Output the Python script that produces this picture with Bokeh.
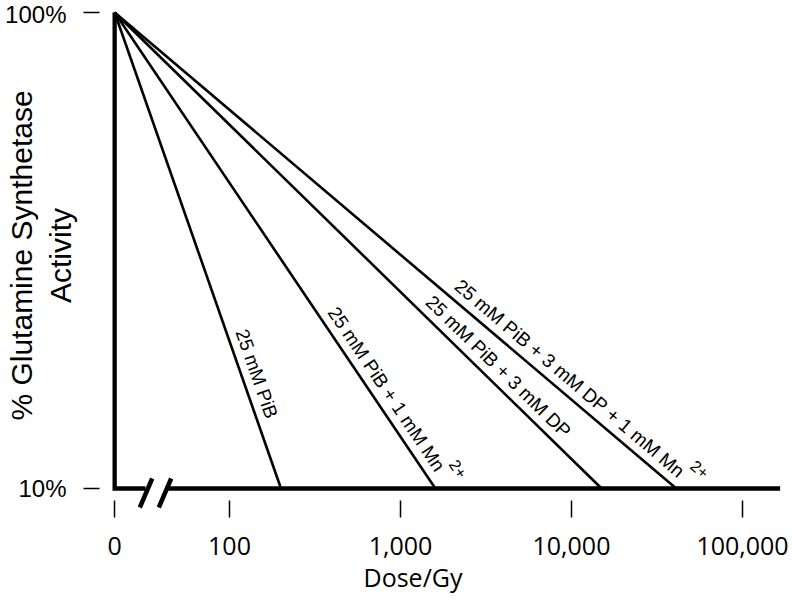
import math
from bokeh.plotting import figure
from bokeh.models import Range1d, FixedTicker, ColumnDataSource, Title
from bokeh.core.properties import value
from bokeh.embed import file_html
from bokeh.resources import INLINE

# ---------------- data ----------------
series_names = ["25 mM PiB", "25 mM PiB + 1 mM Mn", "25 mM PiB + 3 mM DP",
                "25 mM PiB + 3 mM DP + 1 mM Mn"]
series_superscripts = ["", "2+", "", "2+"]
dose_at_10pct = [200, 1600, 15000, 41000]      # Gy at which activity reaches 10 %
activity_start = 100                           # % activity at dose 0
activity_end = 10                              # % activity at end of each line
zero_dose_pos = 21.3                           # axis position used for the "0" dose (axis break)
axis_end_dose = 166000
x_tick_values = [zero_dose_pos, 100, 1000, 10000, 100000]
x_tick_labels = ["0", "100", "1,000", "10,000", "100,000"]
y_tick_values = [10, 100]
y_tick_labels = ["10%", "100%"]
x_title = "Dose/Gy"
y_title = "% Glutamine Synthetase\nActivity"

# ---------------- layout helpers (canvas pixels -> data) ----------------
PX_DEC_X = 171.0   # pixels per decade, x
PX_DEC_Y = 476.0   # pixels per decade, y
def xdata(px):
    return 10 ** (2 + (px - 229) / PX_DEC_X)
def ydata(py):
    return 10 ** (2 - (py - 12) / PX_DEC_Y)

label_t = [0.677, 0.64, 0.624, 0.593]     # start of each line label along its line
sup_t = [None, 0.978, None, 0.995]
LABEL_GAP = 15
SUP_GAP = 30

p = figure(frame_width=672, frame_height=510,
           x_axis_type="log", y_axis_type="log",
           x_range=Range1d(xdata(110), xdata(782)),
           y_range=Range1d(ydata(510), ydata(0)),
           min_border_left=110, min_border_right=10, min_border_top=0, min_border_bottom=90,
           output_backend="svg", toolbar_location=None)
p.xgrid.visible = False
p.ygrid.visible = False
p.outline_line_color = None
p.background_fill_color = "white"
p.border_fill_color = "white"

# --- data lines ---
xs, ys = [], []
for d in dose_at_10pct:
    xs.append([zero_dose_pos, d])
    ys.append([activity_start, activity_end])
p.multi_line(xs, ys, line_color="black", line_width=2.6)

# --- axis frame lines with break ---
brk_lo, brk_hi = xdata(145), xdata(165)
p.line([zero_dose_pos, zero_dose_pos, brk_lo], [activity_start, activity_end, activity_end],
       line_color="black", line_width=4.3, line_join="miter")
p.line([brk_hi, axis_end_dose], [activity_end, activity_end], line_color="black", line_width=4.3)
p.segment(x0=[xdata(151.7), xdata(170.7)], y0=[ydata(478), ydata(478)],
          x1=[xdata(139.3), xdata(158.3)], y1=[ydata(507), ydata(507)],
          line_color="black", line_width=4.5)

# --- line labels ---
def place(i, t, gap):
    lx0 = math.log10(zero_dose_pos)
    lx1 = math.log10(dose_at_10pct[i])
    ly0 = math.log10(activity_start)
    ly1 = math.log10(activity_end)
    dxp = (lx1 - lx0) * PX_DEC_X
    dyp = (ly0 - ly1) * PX_DEC_Y
    th = math.atan2(dyp, dxp)
    lx = lx0 + t * (lx1 - lx0) + gap * math.sin(th) / PX_DEC_X
    ly = ly0 - t * (ly0 - ly1) + gap * math.cos(th) / PX_DEC_Y
    return 10 ** lx, 10 ** ly, -th

lab = dict(x=[], y=[], text=[], angle=[])
sup = dict(x=[], y=[], text=[], angle=[])
for i, name in enumerate(series_names):
    x, y, a = place(i, label_t[i], LABEL_GAP)
    lab["x"].append(x); lab["y"].append(y); lab["text"].append(name); lab["angle"].append(a)
    if series_superscripts[i]:
        x, y, a = place(i, sup_t[i], SUP_GAP)
        sup["x"].append(x); sup["y"].append(y); sup["text"].append(series_superscripts[i]); sup["angle"].append(a)

p.text(x="x", y="y", text="text", angle="angle", source=ColumnDataSource(lab),
       text_font=value("Liberation Sans"), text_font_size=value("19px"),
       text_align="left", text_baseline="alphabetic", text_color="black")
p.text(x="x", y="y", text="text", angle="angle", source=ColumnDataSource(sup),
       text_font=value("Liberation Sans"), text_font_size=value("16px"),
       text_align="left", text_baseline="alphabetic", text_color="black")

# --- axes ---
xa = p.xaxis[0]
xa.ticker = FixedTicker(ticks=x_tick_values)
xa.major_label_overrides = dict(zip(x_tick_values, x_tick_labels))
xa.axis_line_color = None
xa.major_tick_in = 10
xa.major_tick_out = 7
xa.major_tick_line_width = 1.5
xa.major_tick_line_color = "black"
xa.minor_tick_line_color = None
xa.major_label_standoff = 19
xa.major_label_text_font = "Open Sans"
xa.major_label_text_font_size = "25px"
xa.major_label_text_color = "black"

ya = p.yaxis[0]
ya.ticker = FixedTicker(ticks=y_tick_values)
ya.major_label_overrides = dict(zip(y_tick_values, y_tick_labels))
ya.axis_line_color = None
ya.major_tick_in = -11
ya.major_tick_out = 27
ya.major_tick_line_width = 1.5
ya.major_tick_line_color = "black"
ya.minor_tick_line_color = None
ya.major_label_standoff = 17
ya.major_label_text_font = "Liberation Sans"
ya.major_label_text_font_size = "24px"
ya.major_label_text_color = "black"
ya.axis_label = y_title
ya.axis_label_standoff = -75
ya.axis_label_text_font = "Liberation Sans"
ya.axis_label_text_font_size = "30px"
ya.axis_label_text_font_style = "normal"
ya.axis_label_text_color = "black"

p.add_layout(Title(text=x_title, align="left", offset=253, standoff=4, vertical_align="top",
                   text_font="Open Sans", text_font_size="25px", text_font_style="normal",
                   text_color="black"), "below")

open("out.html", "w").write(file_html(p, INLINE))
